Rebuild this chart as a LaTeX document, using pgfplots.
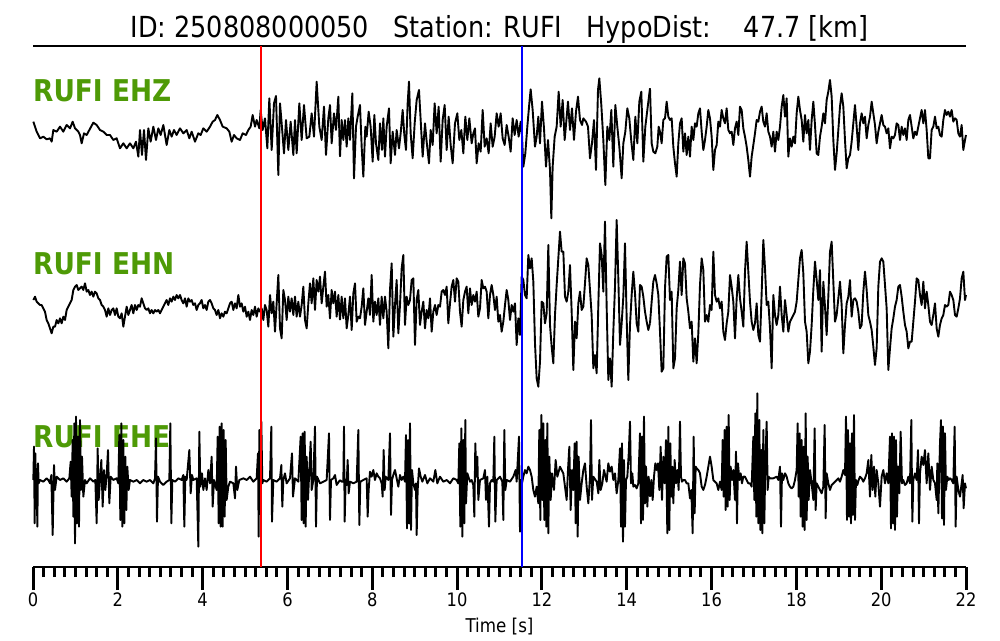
\documentclass[border=0pt]{standalone}
\usepackage{fontspec}
\setmainfont{DejaVu Sans}[FakeStretch=0.88]
\usepackage{pgfplots}
\pgfplotsset{compat=1.18}

\definecolor{labgreen}{HTML}{4E9A06}

% traces were digitised on 3x crops of the screen: (zx,zy) in crop pixels,
% the crop's top left corner at screen pixel (#1,#2)
\pgfplotsset{
  table/seg/.style 2 args={
    row sep=\\,
    x expr={(#1+\thisrowno{0}/3-33)/42.41},
    y expr={640-#2-\thisrowno{1}/3}},
  seismo/.style={black, line width=1.9pt, line join=round, mark=none},
}

\begin{document}
\begin{tikzpicture}
\path (0pt,0pt) rectangle (1000pt,640pt);

\node[anchor=base, inner sep=0, font=\fontsize{29}{29}\selectfont] at (499.5pt,602pt)
  {ID: 250808000050~~~Station: RUFI~~~HypoDist:~~~~47.7 [km]};

\begin{scope}[every node/.style={anchor=base west, inner sep=0, text=labgreen,
    font=\fontsize{30}{30}\selectfont\bfseries}]
\node at (33pt,538pt) {RUFI EHZ};
\node at (33pt,365pt) {RUFI EHN};
\node at (33pt,193pt) {RUFI EHE};
\end{scope}

\node[anchor=base, inner sep=0, font=\fontsize{19}{19}\selectfont] at (499.5pt,8pt) {Time [s]};

\begin{axis}[
  at={(33pt,73pt)}, anchor=south west,
  width=933pt, height=521pt, scale only axis,
  xmin=0, xmax=22, ymin=73, ymax=594,
  clip=false,
  separate axis lines,
  axis line style={line width=2.2pt},
  y axis line style={draw=none},
  ytick=\empty,
  xtick={0,2,...,22}, minor x tick num=7,
  xtick pos=left,
  tick align=outside,
  major tick length=23pt, minor tick length=10pt,
  major tick style={black, line width=3pt},
  minor tick style={black, line width=3pt},
  /pgf/number format/assume math mode=true,
  tick label style={font=\fontsize{18.5}{18.5}\selectfont},
  xticklabel style={yshift=1pt},
]

% EHZ
\addplot[seismo] table[seg={30}{60}] {10 185\\20 215\\30 235\\40 230\\50 238\\60 235\\65 245\\70 210\\80 215\\90 200\\100 215\\110 195\\120 205\\128 185\\135 205\\145 215\\150 225\\155 250\\162 220\\170 225\\178 210\\190 188\\200 195\\210 210\\220 215\\230 225\\240 225\\250 240\\260 235\\270 265\\280 250\\290 265\\300 250\\310 265\\318 245\\325 290\\330 210\\336 285\\342 210\\348 300\\355 205\\362 245\\370 200\\378 240\\385 205\\392 225\\400 195\\410 255\\418 210\\425 230\\432 210\\440 225\\450 205\\460 220\\470 210\\478 235\\485 215\\495 245\\505 220\\512 225\\520 205\\530 215\\540 200\\548 185\\555 180\\562 165\\570 180\\578 200\\590 205\\598 215\\605 245\\612 225\\620 235\\630 240\\638 220\\648 225\\655 210\\662 200\\668 165\\675 200\\680 180\\688 205\\692 150\\698 210\\705 175\\712 265\\718 115\\725 270\\732 130\\738 108\\745 345\\750 130\\755 190\\762 280\\768 180\\775 270\\782 185\\790 285\\795 180\\800 280\\808 130\\815 240\\822 135\\830 235\\838 230\\845 160\\852 230\\860 65\\868 200\\875 240\\882 140\\888 285\\895 175\\900 135\\905 250\\912 160\\918 210\\925 110\\930 290\\};
\addplot[seismo] table[seg={340}{60}] {0 290\\5 180\\10 240\\15 180\\20 260\\25 175\\30 240\\37 100\\42 355\\48 200\\53 170\\60 135\\65 260\\70 350\\76 200\\80 230\\86 155\\92 200\\98 305\\103 165\\108 250\\115 300\\120 190\\126 270\\130 175\\135 290\\140 200\\147 145\\152 310\\158 215\\165 285\\170 210\\177 265\\182 220\\188 150\\193 225\\198 270\\203 130\\207 65\\212 220\\218 295\\224 190\\230 120\\237 90\\242 180\\248 290\\255 190\\260 245\\267 310\\272 210\\278 255\\284 130\\290 220\\296 140\\302 305\\308 180\\314 135\\320 270\\326 170\\332 255\\338 310\\345 190\\352 160\\358 240\\364 210\\370 280\\376 170\\382 240\\388 175\\395 250\\400 220\\405 205\\410 310\\416 250\\422 275\\428 150\\434 260\\440 235\\446 280\\452 190\\458 260\\464 230\\470 160\\476 200\\482 160\\488 235\\494 255\\500 195\\506 230\\512 275\\518 175\\524 225\\530 180\\536 230\\542 185\\546 225\\550 320\\556 280\\562 200\\568 130\\572 88\\578 150\\585 260\\590 230\\595 170\\600 250\\606 125\\612 205\\618 320\\624 240\\630 330\\634 475\\638 320\\644 230\\650 200\\656 95\\662 200\\668 120\\674 240\\678 195\\684 125\\690 210\\696 145\\702 240\\708 155\\714 110\\720 180\\726 195\\730 175\\738 185\\744 200\\750 295\\756 250\\762 180\\768 330\\774 90\\778 55\\784 135\\790 240\\796 375\\802 200\\808 240\\814 150\\820 320\\826 135\\832 200\\838 260\\845 355\\850 250\\856 215\\862 145\\868 175\\874 245\\880 300\\886 170\\892 250\\898 125\\904 95\\910 305\\916 200\\922 150\\930 85\\};
\addplot[seismo] table[seg={650}{60}] {0 85\\5 250\\10 275\\16 280\\22 260\\26 200\\30 215\\35 250\\40 180\\45 175\\50 125\\55 170\\60 180\\65 175\\70 260\\75 310\\80 350\\85 250\\90 190\\95 175\\100 275\\105 220\\110 285\\115 230\\120 290\\125 200\\130 240\\135 190\\140 200\\145 160\\150 145\\155 215\\160 270\\165 240\\170 200\\175 150\\180 175\\185 230\\190 330\\195 270\\200 255\\205 185\\210 200\\215 150\\220 175\\225 190\\230 145\\235 210\\240 220\\245 215\\250 255\\255 205\\260 185\\265 225\\270 140\\275 150\\280 205\\285 230\\290 260\\295 300\\300 350\\305 290\\310 255\\315 220\\320 180\\325 185\\330 155\\335 140\\340 185\\345 200\\350 160\\355 215\\360 230\\365 260\\370 215\\375 275\\380 215\\385 240\\390 200\\395 140\\400 105\\405 170\\410 115\\415 290\\420 235\\425 260\\430 230\\435 250\\440 160\\445 110\\450 150\\455 180\\460 245\\465 165\\470 220\\475 180\\480 270\\485 180\\490 125\\495 195\\500 280\\505 285\\510 230\\515 200\\520 160\\525 190\\530 120\\535 95\\540 60\\545 110\\550 240\\555 330\\560 280\\565 210\\570 140\\575 100\\580 140\\585 240\\590 325\\595 295\\600 285\\605 245\\610 190\\615 135\\620 200\\625 270\\630 190\\635 160\\640 190\\645 170\\650 235\\655 195\\660 170\\665 125\\670 160\\675 195\\680 250\\685 215\\690 190\\695 165\\700 195\\705 200\\710 220\\715 205\\720 265\\725 230\\730 235\\735 225\\740 190\\745 195\\750 240\\755 200\\760 225\\765 205\\770 240\\775 180\\780 165\\785 200\\790 235\\795 215\\800 225\\805 200\\810 175\\815 150\\820 190\\825 150\\830 210\\835 295\\840 295\\845 210\\850 200\\855 170\\860 205\\865 200\\870 225\\875 230\\880 180\\885 150\\890 165\\895 155\\900 170\\905 150\\910 185\\915 175\\920 180\\925 220\\930 230\\935 195\\940 270\\945 240\\948 225\\};

% EHN
\addplot[seismo] table[seg={30}{220}] {10 240\\15 230\\20 245\\25 250\\30 255\\35 255\\40 265\\45 275\\50 300\\55 310\\60 325\\65 340\\70 320\\75 320\\80 300\\85 310\\90 295\\95 310\\100 290\\105 300\\110 270\\115 260\\120 250\\125 240\\130 210\\135 200\\140 195\\145 210\\150 205\\155 200\\160 210\\165 190\\170 215\\175 210\\180 225\\185 215\\190 230\\195 215\\200 220\\205 235\\210 240\\215 255\\220 260\\225 270\\230 290\\235 265\\240 285\\245 270\\250 265\\255 285\\260 265\\265 290\\270 295\\275 280\\280 320\\285 290\\290 260\\295 285\\300 270\\305 255\\310 280\\315 255\\320 270\\325 255\\330 260\\335 235\\340 250\\345 265\\350 270\\355 265\\360 280\\365 270\\370 280\\375 270\\380 275\\385 270\\390 280\\395 270\\400 260\\405 250\\410 240\\415 255\\420 235\\425 245\\430 230\\435 240\\440 225\\445 235\\450 225\\455 240\\460 250\\465 235\\470 260\\475 235\\480 245\\485 240\\490 255\\495 250\\500 270\\505 255\\510 250\\515 240\\520 265\\525 255\\530 270\\535 245\\540 240\\545 250\\550 265\\555 270\\560 285\\565 270\\570 295\\575 280\\580 290\\585 275\\590 280\\595 265\\600 250\\605 245\\610 270\\615 250\\620 265\\625 225\\630 260\\635 250\\640 275\\645 260\\650 290\\655 275\\660 300\\665 270\\670 285\\675 260\\680 290\\685 265\\690 275\\695 265\\700 300\\705 255\\710 270\\715 320\\720 225\\725 280\\730 245\\735 335\\740 250\\745 165\\750 325\\755 355\\760 210\\765 240\\770 300\\775 230\\780 275\\785 235\\790 285\\795 230\\800 290\\805 245\\810 290\\815 255\\820 200\\825 300\\830 325\\835 250\\840 190\\845 250\\850 175\\855 270\\860 180\\865 215\\870 170\\875 250\\880 200\\885 155\\890 260\\895 225\\900 295\\905 210\\910 250\\915 215\\920 290\\925 225\\930 300\\};
\addplot[seismo] table[seg={340}{215}] {0 315\\5 245\\10 310\\15 250\\20 340\\25 300\\30 245\\35 345\\40 235\\45 205\\50 320\\55 305\\60 310\\65 275\\70 220\\75 330\\80 290\\85 250\\90 300\\95 180\\100 320\\105 260\\110 300\\115 250\\120 330\\125 245\\130 310\\135 245\\140 290\\145 400\\150 225\\155 145\\160 365\\165 270\\170 195\\175 355\\180 270\\185 160\\190 120\\195 330\\200 245\\205 270\\210 255\\215 195\\220 190\\225 390\\230 255\\235 225\\240 330\\245 290\\250 260\\255 340\\260 285\\265 310\\270 250\\275 350\\280 290\\285 270\\290 300\\295 270\\300 275\\305 230\\310 225\\315 240\\320 215\\325 325\\330 265\\335 215\\340 195\\345 260\\350 190\\355 200\\360 290\\365 335\\370 255\\375 230\\380 215\\385 295\\390 220\\395 270\\400 240\\405 260\\410 230\\415 305\\420 280\\425 195\\430 220\\435 215\\440 230\\445 310\\450 240\\455 210\\460 240\\465 285\\470 245\\475 320\\480 300\\485 350\\490 320\\495 270\\500 225\\505 255\\510 315\\515 270\\520 290\\525 265\\530 390\\535 310\\540 360\\545 185\\550 195\\555 240\\560 250\\565 120\\570 160\\575 130\\580 200\\585 385\\590 490\\595 515\\600 440\\605 260\\610 265\\615 325\\620 295\\625 90\\630 330\\635 395\\640 445\\645 300\\650 210\\655 130\\660 50\\665 110\\670 110\\675 245\\680 260\\685 230\\690 150\\695 290\\700 465\\705 320\\710 370\\715 265\\720 230\\725 285\\730 275\\735 205\\740 130\\745 150\\750 225\\755 300\\760 460\\765 420\\770 475\\775 270\\780 85\\785 120\\790 230\\795 20\\800 275\\805 495\\810 430\\815 515\\820 350\\825 215\\830 15\\835 190\\840 390\\845 325\\850 245\\855 85\\860 310\\865 495\\870 330\\875 240\\880 170\\885 235\\890 325\\895 350\\900 210\\905 215\\910 245\\915 290\\920 320\\925 345\\930 325\\};
\addplot[seismo] table[seg={650}{215}] {0 325\\5 260\\10 200\\15 180\\20 205\\25 240\\30 350\\35 470\\40 460\\45 220\\50 125\\55 120\\60 255\\65 230\\70 460\\75 430\\80 280\\85 225\\90 140\\95 240\\100 130\\105 145\\110 250\\115 290\\120 340\\125 320\\130 440\\135 370\\140 445\\145 355\\150 210\\155 130\\160 165\\165 320\\170 300\\175 320\\180 270\\185 285\\190 110\\195 240\\200 260\\205 250\\210 280\\215 260\\220 350\\225 375\\230 325\\235 290\\240 180\\245 215\\250 260\\255 370\\260 250\\265 180\\270 250\\275 290\\280 335\\285 170\\290 80\\295 170\\300 260\\305 320\\310 345\\315 325\\320 265\\325 360\\330 380\\335 235\\340 75\\345 160\\350 270\\355 260\\360 340\\365 460\\370 240\\375 300\\380 330\\385 300\\390 215\\395 300\\400 350\\405 255\\410 300\\415 350\\420 320\\425 310\\430 300\\435 290\\440 260\\445 195\\450 130\\455 105\\460 175\\465 320\\470 350\\475 445\\480 410\\485 330\\490 225\\495 140\\500 195\\505 255\\510 165\\515 410\\520 200\\525 275\\530 360\\535 245\\540 110\\545 80\\550 200\\555 320\\560 300\\565 250\\570 200\\575 270\\580 415\\585 330\\590 265\\595 245\\600 195\\605 305\\610 255\\615 250\\620 260\\625 290\\630 340\\635 330\\640 230\\645 170\\650 225\\655 300\\660 320\\665 345\\670 395\\675 450\\680 400\\685 215\\690 140\\695 130\\700 140\\705 210\\710 280\\715 465\\720 400\\725 340\\730 310\\735 275\\740 255\\745 215\\750 210\\755 245\\760 290\\765 330\\770 350\\775 400\\780 380\\785 380\\790 320\\795 260\\800 190\\805 195\\810 240\\815 270\\820 200\\825 280\\830 230\\835 270\\840 320\\845 330\\850 300\\855 265\\860 340\\865 365\\870 330\\875 310\\880 300\\885 270\\890 275\\895 270\\900 230\\905 240\\910 255\\915 300\\920 305\\925 280\\930 250\\935 190\\940 170\\945 255\\948 240\\};

% EHE
\addplot[seismo] table[seg={30}{390}] {10 270\\12 170\\14 400\\16 190\\18 290\\20 250\\22 410\\24 220\\26 280\\30 270\\40 275\\50 265\\55 270\\60 280\\64 255\\68 435\\72 225\\75 300\\80 260\\90 270\\100 265\\110 275\\118 265\\122 215\\125 320\\128 150\\130 380\\133 100\\135 460\\138 80\\141 400\\144 140\\147 410\\150 90\\153 300\\156 200\\160 320\\165 270\\170 280\\180 265\\190 275\\196 270\\200 400\\203 175\\206 330\\210 270\\214 210\\218 350\\222 240\\226 300\\230 255\\234 180\\238 340\\242 260\\250 270\\260 265\\265 280\\268 135\\271 390\\274 100\\277 410\\280 150\\283 400\\286 200\\289 360\\292 230\\296 300\\300 270\\310 275\\320 270\\330 280\\340 270\\350 275\\360 270\\370 280\\375 265\\378 145\\381 395\\384 260\\390 275\\400 285\\410 275\\418 270\\421 100\\424 400\\427 270\\435 275\\445 265\\455 270\\460 255\\463 410\\466 260\\470 270\\478 180\\482 310\\486 255\\490 270\\500 265\\505 470\\508 125\\511 290\\516 250\\520 300\\525 265\\530 300\\535 240\\540 280\\545 200\\548 350\\552 270\\560 300\\563 140\\566 400\\569 110\\572 410\\575 100\\578 410\\581 120\\584 380\\587 150\\590 330\\595 290\\600 275\\610 280\\615 325\\618 230\\622 300\\628 270\\640 265\\650 270\\660 260\\670 275\\680 265\\684 190\\686 440\\688 120\\690 330\\694 95\\697 280\\700 270\\710 275\\720 265\\724 110\\726 395\\730 270\\740 275\\750 265\\754 225\\757 350\\760 270\\765 250\\770 280\\780 265\\786 190\\789 320\\795 265\\805 275\\812 140\\815 390\\818 130\\821 400\\824 125\\827 410\\830 200\\834 330\\838 240\\842 155\\845 300\\850 270\\855 110\\858 410\\861 260\\870 280\\880 275\\890 270\\897 130\\900 390\\903 270\\910 265\\915 255\\920 285\\930 270\\};
\addplot[seismo] table[seg={340}{390}] {0 270\\5 275\\10 275\\12 110\\14 395\\17 270\\20 285\\23 210\\26 310\\30 275\\40 280\\50 275\\55 120\\58 405\\61 275\\70 270\\80 265\\83 380\\86 300\\90 245\\95 260\\100 240\\105 270\\110 250\\115 260\\120 265\\125 280\\128 320\\131 180\\134 300\\137 260\\145 270\\150 130\\153 375\\156 270\\160 255\\165 240\\170 265\\175 290\\180 255\\185 270\\190 260\\195 275\\198 135\\201 415\\204 150\\207 400\\210 100\\213 420\\216 240\\220 280\\225 300\\228 280\\230 435\\233 300\\237 235\\242 260\\247 275\\255 255\\262 280\\270 265\\280 275\\286 240\\292 280\\300 260\\310 275\\320 270\\330 280\\340 265\\350 270\\355 280\\358 160\\361 410\\364 115\\367 440\\370 150\\373 400\\376 90\\378 340\\382 250\\390 275\\395 270\\400 285\\403 380\\406 160\\409 260\\412 200\\415 330\\420 270\\430 265\\435 240\\438 330\\442 260\\447 410\\450 280\\455 270\\460 275\\463 140\\466 395\\470 270\\480 260\\487 275\\490 390\\493 120\\496 300\\500 270\\510 275\\520 260\\527 240\\530 275\\537 140\\540 425\\543 270\\546 280\\550 260\\555 240\\560 250\\565 230\\570 240\\575 260\\580 300\\585 320\\590 290\\595 340\\598 120\\601 390\\604 75\\607 330\\610 100\\613 390\\616 150\\619 410\\622 100\\625 430\\628 200\\632 330\\636 250\\642 300\\647 210\\652 260\\660 230\\665 240\\670 250\\675 290\\680 330\\684 240\\688 170\\692 360\\696 240\\700 300\\704 160\\707 400\\710 155\\713 440\\716 200\\720 330\\725 280\\730 240\\735 220\\740 290\\745 340\\750 260\\753 90\\756 330\\760 260\\770 275\\775 310\\778 210\\782 300\\787 280\\792 240\\800 275\\805 220\\810 245\\815 230\\820 270\\825 250\\830 310\\835 270\\840 175\\843 410\\846 160\\849 455\\852 210\\855 410\\858 270\\862 260\\866 195\\870 95\\873 280\\877 250\\880 290\\885 285\\890 295\\895 280\\900 130\\903 400\\906 140\\909 390\\912 80\\915 340\\918 230\\922 350\\926 260\\930 320\\};
\addplot[seismo] table[seg={650}{390}] {0 320\\4 270\\8 330\\12 260\\16 220\\20 240\\24 220\\28 300\\32 170\\36 330\\40 200\\44 280\\48 150\\52 430\\55 110\\58 420\\61 160\\64 320\\67 230\\70 340\\74 210\\78 280\\82 240\\86 300\\90 95\\93 260\\96 275\\100 270\\105 270\\110 280\\115 280\\120 325\\124 300\\128 430\\131 140\\134 370\\137 230\\140 235\\145 240\\150 250\\155 290\\160 300\\165 285\\170 260\\175 230\\180 200\\185 230\\190 270\\195 275\\200 280\\205 300\\210 275\\215 300\\218 150\\221 320\\224 120\\227 360\\230 110\\233 350\\236 75\\239 330\\242 230\\246 270\\250 240\\255 330\\258 185\\261 400\\264 220\\268 270\\272 250\\276 280\\280 260\\285 260\\290 270\\295 280\\300 280\\305 290\\310 140\\313 330\\316 70\\319 380\\322 10\\325 400\\328 90\\331 420\\334 180\\337 430\\340 120\\343 400\\346 220\\350 95\\353 300\\356 260\\360 265\\370 265\\380 260\\385 270\\390 230\\393 410\\396 250\\400 270\\405 250\\410 260\\415 280\\420 290\\425 295\\430 290\\435 270\\440 240\\443 100\\446 320\\449 130\\452 380\\455 150\\458 410\\461 170\\464 420\\467 70\\470 390\\473 200\\476 330\\480 240\\485 280\\490 330\\494 115\\497 360\\500 280\\505 290\\510 300\\515 310\\520 290\\524 105\\527 385\\530 250\\535 280\\540 300\\545 285\\550 280\\555 275\\560 270\\565 265\\570 275\\575 260\\580 240\\585 255\\588 80\\591 390\\594 120\\597 380\\600 160\\603 400\\606 130\\609 375\\612 75\\615 390\\618 270\\622 285\\626 270\\630 260\\635 265\\640 275\\645 265\\650 250\\655 210\\660 320\\664 195\\668 300\\672 230\\676 320\\680 240\\685 280\\690 350\\695 260\\700 240\\705 280\\710 250\\715 280\\720 140\\723 415\\726 130\\729 400\\732 140\\735 420\\738 150\\741 380\\744 230\\748 310\\752 125\\756 280\\760 270\\765 285\\770 280\\775 260\\780 280\\784 90\\787 395\\790 270\\795 250\\800 270\\804 180\\807 400\\810 250\\815 200\\820 225\\825 180\\830 280\\835 190\\840 300\\845 230\\850 270\\855 280\\860 330\\862 220\\865 370\\870 160\\873 90\\876 385\\879 110\\882 405\\885 130\\888 300\\892 260\\896 270\\900 265\\905 270\\910 280\\914 110\\917 410\\920 260\\925 300\\930 320\\935 280\\938 255\\941 355\\945 280\\948 295\\};

% P and S picks
\addplot[draw=red, line width=1.8pt, mark=none] coordinates {(5.37,73) (5.37,594)};
\addplot[draw=blue, line width=1.8pt, mark=none] coordinates {(11.53,73) (11.53,594)};
\end{axis}
\end{tikzpicture}
\end{document}
